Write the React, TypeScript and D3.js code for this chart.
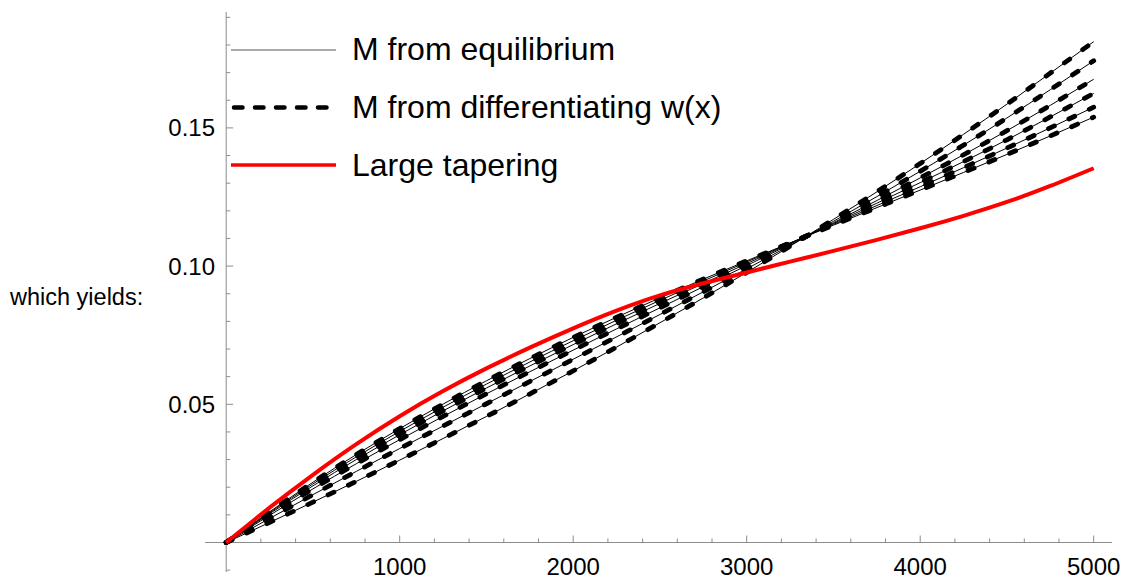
import React from "react";
import * as d3 from "d3";

const W = 1128;
const H = 579;

// sample abscissae for the beam curves
const X_SAMPLES = [0, 500, 1000, 1500, 2000, 2500, 3000, 3500, 4000, 4500, 5000];

// "M from equilibrium" curves (six cases)
const EQ_A = [0, 0.0146, 0.0298, 0.0456, 0.0621, 0.0795, 0.0977, 0.1169, 0.1371, 0.1586, 0.1812];
const EQ_B = [0, 0.0173, 0.034, 0.0502, 0.0663, 0.0825, 0.099, 0.1162, 0.1343, 0.1536, 0.1743];
const EQ_C = [0, 0.0194, 0.0372, 0.0538, 0.0696, 0.0849, 0.1002, 0.1157, 0.1319, 0.149, 0.1676];
const EQ_D = [0, 0.0205, 0.039, 0.0559, 0.0716, 0.0865, 0.1009, 0.1154, 0.1302, 0.1457, 0.1625];
const EQ_E = [0, 0.0212, 0.0402, 0.0573, 0.073, 0.0876, 0.1015, 0.1151, 0.1287, 0.1427, 0.1575];
const EQ_F = [0, 0.0218, 0.0412, 0.0585, 0.0742, 0.0885, 0.1019, 0.1148, 0.1275, 0.1404, 0.1539];

// "M from differentiating w(x)" curves (coincide with the above)
const DIFF_A = [0, 0.0146, 0.0298, 0.0456, 0.0621, 0.0795, 0.0977, 0.1169, 0.1371, 0.1586, 0.1812];
const DIFF_B = [0, 0.0173, 0.034, 0.0502, 0.0663, 0.0825, 0.099, 0.1162, 0.1343, 0.1536, 0.1743];
const DIFF_C = [0, 0.0194, 0.0372, 0.0538, 0.0696, 0.0849, 0.1002, 0.1157, 0.1319, 0.149, 0.1676];
const DIFF_D = [0, 0.0205, 0.039, 0.0559, 0.0716, 0.0865, 0.1009, 0.1154, 0.1302, 0.1457, 0.1625];
const DIFF_E = [0, 0.0212, 0.0402, 0.0573, 0.073, 0.0876, 0.1015, 0.1151, 0.1287, 0.1427, 0.1575];
const DIFF_F = [0, 0.0218, 0.0412, 0.0585, 0.0742, 0.0885, 0.1019, 0.1148, 0.1275, 0.1404, 0.1539];

// "Large tapering"
const RED_X = [0, 250, 500, 750, 1000, 1250, 1500, 1750, 2000, 2250, 2500, 2750, 3000, 3250, 3500, 3750, 4000, 4250, 4500, 4750, 5000];
const RED_Y = [0, 0.0126, 0.0245, 0.0356, 0.0457, 0.0548, 0.063, 0.0705, 0.0775, 0.0839, 0.0894, 0.0938, 0.0977, 0.1016, 0.1055, 0.1095, 0.1137, 0.1182, 0.1232, 0.129, 0.1354];

const X_MAJOR = [1000, 2000, 3000, 4000, 5000];
const Y_MAJOR = [0.05, 0.1, 0.15];
const Y_LABELS = ["0.05", "0.10", "0.15"];
const LEGEND = ["M from equilibrium", "M from differentiating w(x)", "Large tapering"];

const FONT = "'Liberation Sans', Arial, sans-serif";

export default function App() {
  const x = d3.scaleLinear().domain([0, 5000]).range([226.2, 1093.7]);
  const y = d3.scaleLinear().domain([0, 0.19]).range([542.5, 542.5 - 0.19 * 2764]);

  const line = d3
    .line<[number, number]>()
    .x((d) => x(d[0]))
    .y((d) => y(d[1]))
    .curve(d3.curveNatural);

  const toPts = (xs: number[], ys: number[]) => xs.map((v, i) => [v, ys[i]] as [number, number]);

  const eq = [EQ_A, EQ_B, EQ_C, EQ_D, EQ_E, EQ_F];
  const diff = [DIFF_A, DIFF_B, DIFF_C, DIFF_D, DIFF_E, DIFF_F];

  const xMinor = d3.range(200, 5001, 200).filter((v) => v % 1000 !== 0);
  const yMinor = d3.range(-1, 20).map((k) => k / 100).filter((v) => Math.round(v * 100) % 5 !== 0);

  const axisColor = "#8c8c8c";
  const x0 = x(0);
  const y0 = y(0);

  return (
    <svg width={W} height={H} style={{ position: "absolute", left: 0, top: 0, background: "#fff" }}>
      {/* axes */}
      <line x1={205} x2={1112} y1={y0} y2={y0} stroke={axisColor} strokeWidth={1} />
      <line x1={x0} x2={x0} y1={12} y2={572} stroke={axisColor} strokeWidth={1} />
      {X_MAJOR.map((v) => (
        <line key={"xm" + v} x1={x(v)} x2={x(v)} y1={y0} y2={y0 - 7} stroke={axisColor} />
      ))}
      {xMinor.map((v) => (
        <line key={"xn" + v} x1={x(v)} x2={x(v)} y1={y0} y2={y0 - 4} stroke={axisColor} />
      ))}
      {Y_MAJOR.map((v) => (
        <line key={"ym" + v} x1={x0} x2={x0 + 7} y1={y(v)} y2={y(v)} stroke={axisColor} />
      ))}
      {yMinor.map((v) => (
        <line key={"yn" + v} x1={x0} x2={x0 + 4} y1={y(v)} y2={y(v)} stroke={axisColor} />
      ))}
      {X_MAJOR.map((v) => (
        <text key={"xl" + v} x={x(v)} y={575} textAnchor="middle" fontFamily={FONT} fontSize={24} fill="#000">
          {v}
        </text>
      ))}
      {Y_MAJOR.map((v, i) => (
        <text key={"yl" + v} x={215} y={y(v) + 8.5} textAnchor="end" fontFamily={FONT} fontSize={24} fill="#000">
          {Y_LABELS[i]}
        </text>
      ))}
      <text x={10} y={305} fontFamily={FONT} fontSize={23.5} fill="#000">
        which yields:
      </text>

      {/* curves */}
      {eq.map((s, i) => (
        <g key={"s" + i}>
          <path d={line(toPts(X_SAMPLES, s)) || ""} fill="none" stroke="#000" strokeWidth={1} />
          <path
            d={line(toPts(X_SAMPLES, diff[i])) || ""}
            fill="none"
            stroke="#000"
            strokeWidth={4.8}
            strokeDasharray="6.5 16"
            strokeLinecap="round"
          />
        </g>
      ))}
      <path d={line(toPts(RED_X, RED_Y)) || ""} fill="none" stroke="#ff0000" strokeWidth={4} />

      {/* legend */}
      <line x1={231} x2={336} y1={50} y2={50} stroke="#555" strokeWidth={1} />
      <line x1={234} x2={330} y1={107.5} y2={107.5} stroke="#000" strokeWidth={4.5} strokeDasharray="8.5 12.5" strokeLinecap="round" />
      <line x1={231} x2={336} y1={165} y2={165} stroke="#ff0000" strokeWidth={3.5} />
      {LEGEND.map((t, i) => (
        <text key={t} x={352} y={[60, 118, 176][i]} fontFamily={FONT} fontSize={32} fill="#000">
          {t}
        </text>
      ))}
    </svg>
  );
}
